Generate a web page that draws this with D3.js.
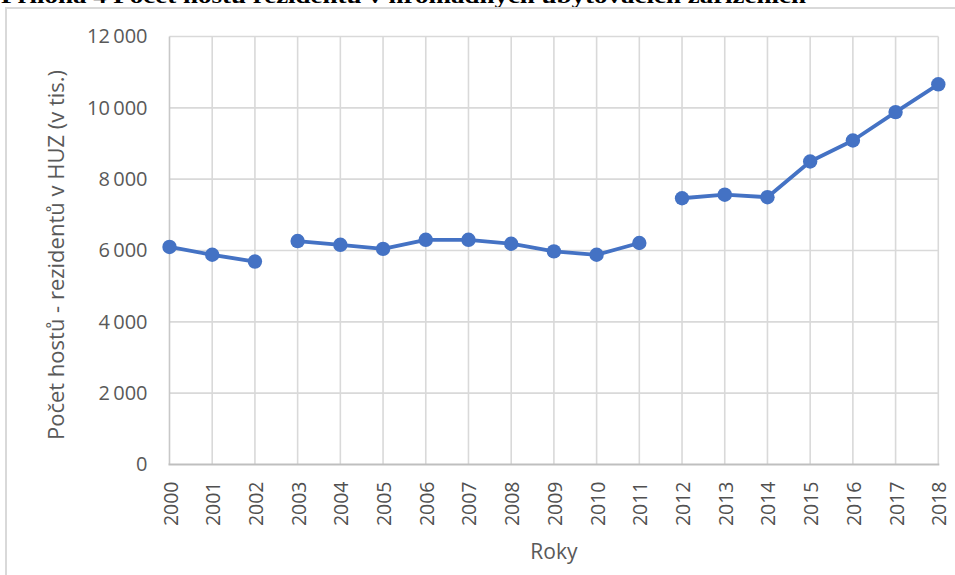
<!DOCTYPE html>
<html>
<head>
<meta charset="utf-8">
<script src="https://cdn.jsdelivr.net/npm/d3@7"></script>
<style>
  html, body { margin: 0; padding: 0; background: #fff; }
  svg { display: block; }
</style>
</head>
<body>
<svg id="chart" width="955" height="575"></svg>
<script>
const years = [2000, 2001, 2002, 2003, 2004, 2005, 2006, 2007, 2008, 2009, 2010, 2011, 2012, 2013, 2014, 2015, 2016, 2017, 2018];
const guests = [6100, 5880, 5690, 6265, 6160, 6045, 6300, 6300, 6190, 5975, 5880, 6210, 7465, 7565, 7495, 8495, 9085, 9880, 10660];
// the series is interrupted after these years (no connecting line)
const breaksAfter = [2002, 2011];
const yTicks = [0, 2000, 4000, 6000, 8000, 10000, 12000];
const titleText = "Příloha 4 Počet hostů rezidentů v hromadných ubytovacích zařízeních";
const yTitle = "Počet hostů - rezidentů v HUZ (v tis.)";
const xTitle = "Roky";

const svg = d3.select("#chart");
const W = 955, H = 575;
const plot = { left: 169.5, right: 938.3, top: 36.5, bottom: 464.5 };

// clipped document caption at the very top (cut off as in the source)
svg.append("text")
  .attr("x", 1).attr("y", 2.5)
  .attr("font-family", "'Liberation Serif', 'DejaVu Serif', serif")
  .attr("font-weight", "bold")
  .attr("font-size", 22)
  .attr("textLength", 805)
  .attr("lengthAdjust", "spacingAndGlyphs")
  .attr("fill", "#000")
  .text(titleText);

// chart frame
svg.append("rect")
  .attr("x", 6).attr("y", 8)
  .attr("width", W + 20).attr("height", H + 20)
  .attr("fill", "none")
  .attr("stroke", "#d9d9d9")
  .attr("stroke-width", 2);

const x = d3.scalePoint().domain(years).range([plot.left, plot.right]);
const y = d3.scaleLinear().domain([0, 12000]).range([plot.bottom, plot.top]);

const fmt = v => d3.format(",")(v).replace(/,/g, "\u2009");
const labelFont = "'Open Sans', 'Noto Sans', sans-serif";

// horizontal gridlines
svg.append("g").selectAll("line").data(yTicks.filter(d => d > 0)).join("line")
  .attr("x1", plot.left).attr("x2", plot.right)
  .attr("y1", d => y(d)).attr("y2", d => y(d))
  .attr("stroke", "#d9d9d9").attr("stroke-width", 1.6);

// vertical gridlines
svg.append("g").selectAll("line").data(years).join("line")
  .attr("x1", d => x(d)).attr("x2", d => x(d))
  .attr("y1", plot.top).attr("y2", plot.bottom)
  .attr("stroke", d => d === years[0] ? "#c8c8c8" : "#d9d9d9")
  .attr("stroke-width", 1.6);

// bottom axis line
svg.append("line")
  .attr("x1", plot.left - 1).attr("x2", plot.right + 1)
  .attr("y1", y(0)).attr("y2", y(0))
  .attr("stroke", "#bfbfbf").attr("stroke-width", 2);

// y axis (labels only)
const yAxis = d3.axisLeft(y).tickValues(yTicks).tickFormat(fmt).tickSize(0).tickPadding(22);
const gy = svg.append("g").attr("transform", `translate(${plot.left},0)`).call(yAxis);
gy.select(".domain").remove();
gy.selectAll("text")
  .attr("font-family", labelFont).attr("font-size", 20)
  .attr("fill", "#595959");

// x axis (rotated labels)
const xAxis = d3.axisBottom(x).tickSize(0).tickPadding(0);
const gx = svg.append("g").attr("transform", `translate(0,${plot.bottom})`).call(xAxis);
gx.select(".domain").remove();
gx.selectAll("text")
  .attr("font-family", labelFont).attr("font-size", 19.5)
  .attr("fill", "#505050")
  .attr("text-anchor", "end")
  .attr("dy", null)
  .attr("transform", "translate(7.5,17) rotate(-90)")
  .attr("x", 0).attr("y", 0);

// axis titles
svg.append("text")
  .attr("transform", `translate(64,255) rotate(-90)`)
  .attr("text-anchor", "middle")
  .attr("font-family", labelFont).attr("font-size", 22)
  .attr("fill", "#595959")
  .text(yTitle);

svg.append("text")
  .attr("x", (plot.left + plot.right) / 2).attr("y", 559)
  .attr("text-anchor", "middle")
  .attr("font-family", labelFont).attr("font-size", 21)
  .attr("fill", "#595959")
  .text(xTitle);

// data with segment ids
const data = years.map((yr, i) => ({
  year: yr, value: guests[i],
  seg: breaksAfter.filter(b => yr > b).length
}));
const segments = d3.groups(data, d => d.seg).map(g => g[1]);

const line = d3.line().x(d => x(d.year)).y(d => y(d.value));
svg.append("g").selectAll("path").data(segments).join("path")
  .attr("d", line)
  .attr("fill", "none")
  .attr("stroke", "#4472c4")
  .attr("stroke-width", 3.8)
  .attr("stroke-linejoin", "round");

svg.append("g").selectAll("circle").data(data).join("circle")
  .attr("cx", d => x(d.year)).attr("cy", d => y(d.value))
  .attr("r", 7.2)
  .attr("fill", "#4472c4");
</script>
</body>
</html>
